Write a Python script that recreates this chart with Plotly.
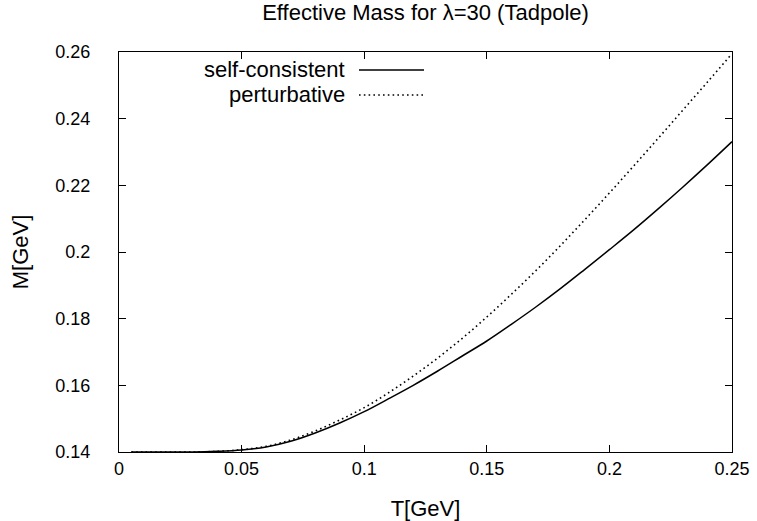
import plotly.graph_objects as go

# ---- data ----
T_sc = [0.005, 0.01, 0.02, 0.03, 0.04, 0.05, 0.06, 0.07, 0.08, 0.09, 0.10,
        0.11, 0.12, 0.13, 0.14, 0.15, 0.16, 0.17, 0.18, 0.19, 0.20,
        0.21, 0.22, 0.23, 0.24, 0.25]
M_sc = [0.1400, 0.1400, 0.1400, 0.1400, 0.1402, 0.1406, 0.1415, 0.1432, 0.1457, 0.1487, 0.1521,
        0.1560, 0.1600, 0.1643, 0.1688, 0.1733, 0.1783, 0.1835, 0.1890, 0.1948, 0.2007,
        0.2067, 0.2130, 0.2195, 0.2262, 0.2331]

T_pt = T_sc
M_pt = [0.1400, 0.1400, 0.1400, 0.1400, 0.1402, 0.1407, 0.1417, 0.1436, 0.1463, 0.1496, 0.1533,
        0.1578, 0.1628, 0.1682, 0.1741, 0.1805, 0.1873, 0.1944, 0.2019, 0.2097, 0.2177,
        0.2259, 0.2342, 0.2426, 0.2510, 0.2595]

x_ticks = [0, 0.05, 0.1, 0.15, 0.2, 0.25]
x_tick_labels = ["0", "0.05", "0.1", "0.15", "0.2", "0.25"]
y_ticks = [0.14, 0.16, 0.18, 0.2, 0.22, 0.24, 0.26]
y_tick_labels = ["0.14", "0.16", "0.18", "0.2", "0.22", "0.24", "0.26"]

series_names = ["self-consistent", "perturbative"]
title_text = "Effective Mass for λ=30 (Tadpole)"

FONT = "Liberation Sans, Arial, Helvetica, sans-serif"
TXT = 22
TICK = 18

L, R, TOP, BOT = 119, 732, 52, 452.5
W, H = 757, 521

fig = go.Figure()
fig.add_trace(go.Scatter(x=T_sc, y=M_sc, mode="lines", name=series_names[0],
                         line=dict(color="black", width=1.5, shape="spline"),
                         showlegend=False))
fig.add_trace(go.Scatter(x=T_pt, y=M_pt, mode="lines", name=series_names[1],
                         line=dict(color="black", width=1.6, dash="1.6px,3.2px", shape="spline"),
                         showlegend=False))

# gnuplot-style key: text right-aligned, sample line to the right
key_rows = [(series_names[0], "solid", 70), (series_names[1], "1.6px,3.2px", 95)]
for name, dash, ypx in key_rows:
    yp = 1 - (ypx - TOP) / (BOT - TOP)
    fig.add_annotation(xref="paper", yref="paper", x=(347 - L) / (R - L), y=yp,
                       text=name, showarrow=False, xanchor="right", yanchor="middle",
                       font=dict(family=FONT, size=TXT, color="black"))
    fig.add_shape(type="line", xref="paper", yref="paper",
                  x0=(359 - L) / (R - L), x1=(424 - L) / (R - L), y0=yp, y1=yp,
                  line=dict(color="black", width=1.5, dash=dash))

axis_common = dict(showline=True, linecolor="black", linewidth=1, mirror="ticks",
                   ticks="inside", ticklen=7, tickcolor="black", tickwidth=1,
                   showgrid=False, zeroline=False, automargin=False,
                   tickfont=dict(family=FONT, size=TICK, color="black"))

fig.update_xaxes(range=[0, 0.25], tickvals=x_ticks, ticktext=x_tick_labels,
                 title=dict(text="T[GeV]", font=dict(family=FONT, size=TXT, color="black"), standoff=27),
                 ticklabelstandoff=0, **axis_common)
fig.update_yaxes(range=[0.14, 0.26], tickvals=y_ticks, ticktext=y_tick_labels,
                 title=dict(text="M[GeV]", font=dict(family=FONT, size=TXT, color="black"), standoff=20),
                 ticklabelstandoff=24, **axis_common)

fig.update_layout(
    width=W, height=H,
    margin=dict(l=L, r=W - R, t=TOP, b=H - BOT, pad=0, autoexpand=False),
    paper_bgcolor="white", plot_bgcolor="white",
    title=dict(text=title_text, x=(L + R) / 2 / W, xanchor="center",
               y=1 - 12 / H, yanchor="middle",
               font=dict(family=FONT, size=TXT, color="black")),
)

fig.write_html("out.html", config={"displayModeBar": False},
               post_script="document.body.style.margin='0';document.body.style.padding='0';")
